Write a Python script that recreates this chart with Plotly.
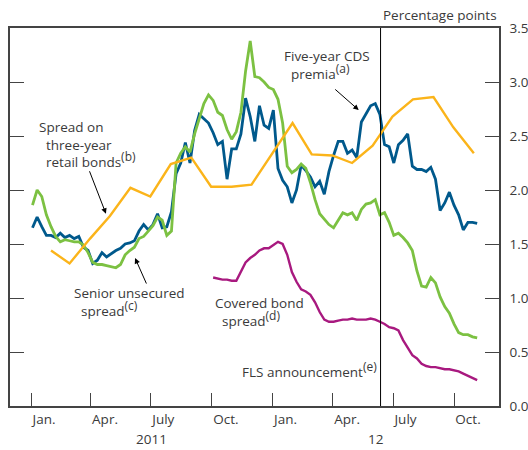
import plotly.graph_objects as go
import pandas as pd

# Weekly samples (Mondays) of daily series
week_dates = pd.date_range('2011-01-03', periods=97, freq='7D')

cds_premia = [1.65, 1.75, 1.66, 1.58, 1.58, 1.56, 1.60, 1.56, 1.58, 1.55,
              1.57, 1.47, 1.44, 1.32, 1.35, 1.42, 1.38, 1.41, 1.44, 1.46,
              1.50, 1.51, 1.53, 1.62, 1.68, 1.63, 1.68, 1.78, 1.65, 1.66,
              1.80, 2.15, 2.25, 2.44, 2.25, 2.55, 2.70, 2.66, 2.62, 2.53,
              2.42, 2.45, 2.10, 2.38, 2.38, 2.52, 2.85, 2.68, 2.45, 2.78,
              2.60, 2.57, 2.74, 2.20, 2.09, 2.03, 1.88, 2.00, 2.23, 2.18,
              2.12, 2.03, 2.08, 1.96, 2.17, 2.32, 2.45, 2.45, 2.34, 2.37,
              2.30, 2.63, 2.70, 2.78, 2.80, 2.70, 2.42, 2.40, 2.25, 2.42,
              2.46, 2.52, 2.22, 2.19, 2.19, 2.17, 2.21, 2.10, 1.81, 1.88,
              1.98, 1.86, 1.77, 1.63, 1.70, 1.70, 1.69]

senior_unsecured = [1.86, 2.00, 1.94, 1.77, 1.66, 1.57, 1.52, 1.54, 1.53, 1.52,
                    1.52, 1.49, 1.42, 1.33, 1.31, 1.31, 1.30, 1.29, 1.28, 1.31,
                    1.40, 1.44, 1.47, 1.55, 1.57, 1.62, 1.67, 1.75, 1.72, 1.58,
                    1.62, 2.25, 2.34, 2.40, 2.35, 2.52, 2.66, 2.80, 2.88, 2.83,
                    2.72, 2.69, 2.56, 2.47, 2.54, 2.72, 3.10, 3.38, 3.05, 3.04,
                    3.00, 2.95, 2.93, 2.84, 2.62, 2.22, 2.16, 2.19, 2.24, 2.20,
                    2.07, 1.91, 1.78, 1.73, 1.68, 1.65, 1.72, 1.79, 1.77, 1.79,
                    1.72, 1.82, 1.87, 1.88, 1.91, 1.77, 1.79, 1.70, 1.58, 1.60,
                    1.56, 1.51, 1.44, 1.25, 1.11, 1.10, 1.19, 1.14, 1.01, 0.92,
                    0.86, 0.76, 0.68, 0.66, 0.66, 0.64, 0.63]

covered_dates = week_dates[39:]
covered_bond = [1.19, 1.18, 1.17, 1.17, 1.16, 1.16, 1.25, 1.33, 1.37, 1.40,
                1.44, 1.46, 1.46, 1.49, 1.52, 1.50, 1.40, 1.24, 1.15, 1.08,
                1.06, 1.03, 0.96, 0.87, 0.80, 0.78, 0.78, 0.79, 0.80, 0.80,
                0.81, 0.80, 0.80, 0.80, 0.81, 0.80, 0.78, 0.76, 0.73, 0.72,
                0.70, 0.61, 0.54, 0.47, 0.44, 0.39, 0.37, 0.36, 0.36, 0.35,
                0.34, 0.34, 0.33, 0.32, 0.30, 0.28, 0.26, 0.24]

retail_dates = ['2011-01-31', '2011-02-28', '2011-03-31', '2011-04-30', '2011-05-31',
                '2011-06-30', '2011-07-31', '2011-08-31', '2011-09-30', '2011-10-31',
                '2011-11-30', '2011-12-31', '2012-01-31', '2012-02-29', '2012-03-31',
                '2012-04-30', '2012-05-31', '2012-06-30', '2012-07-31', '2012-08-31',
                '2012-09-30', '2012-10-31']
retail_bonds = [1.44, 1.32, 1.55, 1.76, 2.02, 1.94, 2.24, 2.30, 2.03, 2.03,
                2.05, 2.33, 2.62, 2.33, 2.32, 2.25, 2.41, 2.68, 2.84, 2.86,
                2.58, 2.34]

tick_dates = ['2011-01-01', '2011-04-01', '2011-07-01', '2011-10-01',
              '2012-01-01', '2012-04-01', '2012-07-01', '2012-10-01']
tick_labels = ['Jan.', 'Apr.', 'July', 'Oct.', 'Jan.', 'Apr.', 'July', 'Oct.']
y_ticks = [0, 0.5, 1, 1.5, 2, 2.5, 3, 3.5]
fls_date = '2012-06-12'

BLUE = '#00598C'
GREEN = '#7CC142'
ORANGE = '#FBB41A'
MAGENTA = '#A8197F'
TEXT = '#3a3a3a'
FONT = 'Open Sans'

fig = go.Figure()
fig.add_trace(go.Scatter(x=week_dates, y=cds_premia, mode='lines',
                         line=dict(color=BLUE, width=2.8)))
fig.add_trace(go.Scatter(x=week_dates, y=senior_unsecured, mode='lines',
                         line=dict(color=GREEN, width=2.8)))
fig.add_trace(go.Scatter(x=retail_dates, y=retail_bonds, mode='lines',
                         line=dict(color=ORANGE, width=2.4)))
fig.add_trace(go.Scatter(x=covered_dates, y=covered_bond, mode='lines',
                         line=dict(color=MAGENTA, width=2.4)))

fig.add_shape(type='line', xref='x', yref='paper', x0=fls_date, x1=fls_date,
              y0=0, y1=1, line=dict(color='black', width=1))

def sup(s):
    return '<sup><span style="font-size:12px">' + s + '</span></sup>'

IND = '&nbsp;&nbsp;'

def txt(text, x, y, xanchor='left', yanchor='middle', size=13.5):
    fig.add_annotation(text=text, xref='paper', yref='paper', x=x, y=y,
                       xanchor=xanchor, yanchor=yanchor, align='left',
                       showarrow=False,
                       font=dict(size=size, color=TEXT, family=FONT))

txt('Percentage points', 1.0, 1.034, xanchor='right')
txt('Five-year CDS<br>' + IND + 'premia' + sup('(a)'), 0.556, 0.955, yanchor='top')
txt('Spread on<br>' + IND + 'three-year<br>' + IND + 'retail bonds' + sup('(b)'),
    0.055, 0.767, yanchor='top')
txt('Senior unsecured<br>' + IND + 'spread' + sup('(c)'), 0.127, 0.328, yanchor='top')
txt('Covered bond<br>' + IND + 'spread' + sup('(d)'), 0.415, 0.302, yanchor='top')
txt('FLS announcement' + sup('(e)'), 0.470, 0.097)
txt('2011', 0.290, -0.1164, xanchor='center', yanchor='bottom')
txt('12', 0.748, -0.1164, xanchor='center', yanchor='bottom')

def arrow(x, y, ax, ay):
    fig.add_annotation(x=x, y=y, xref='x', yref='y', ax=ax, ay=ay, text='',
                       showarrow=True, arrowhead=2, arrowsize=1.1, arrowwidth=1,
                       arrowcolor='black')

arrow('2012-05-10', 2.74, -25, -22)
arrow('2011-04-24', 1.78, -17, -44)
arrow('2011-06-07', 1.37, 12, 27)

fig.update_layout(
    width=528, height=450,
    margin=dict(l=10, r=29, t=28, b=44, autoexpand=False),
    plot_bgcolor='white', paper_bgcolor='white',
    showlegend=False,
    font=dict(family=FONT, size=13.5, color=TEXT),
    xaxis=dict(range=['2010-11-30', '2012-12-08'], type='date', automargin=False,
               tickmode='array', tickvals=tick_dates, ticktext=tick_labels,
               ticks='inside', ticklen=13, tickcolor='#444', tickwidth=1.2,
               ticklabelposition='outside right',
               showline=True, linecolor='#444', linewidth=1.5, mirror=True,
               showgrid=False, zeroline=False,
               tickfont=dict(size=13.5, color=TEXT, family=FONT)),
    yaxis=dict(range=[0, 3.5], side='right', tickmode='array', tickvals=y_ticks,
               automargin=False,
               tickformat='.1f', ticks='inside', ticklen=14, tickcolor='#444',
               tickwidth=1.2, showline=True, linecolor='#444', linewidth=1.5,
               mirror='ticks', showgrid=False, zeroline=False,
               ticklabelstandoff=6,
               tickfont=dict(size=13.5, color=TEXT, family=FONT)),
)

fig.write_html('out.html', config={'displayModeBar': False},
               post_script="document.body.style.margin='0px';")
